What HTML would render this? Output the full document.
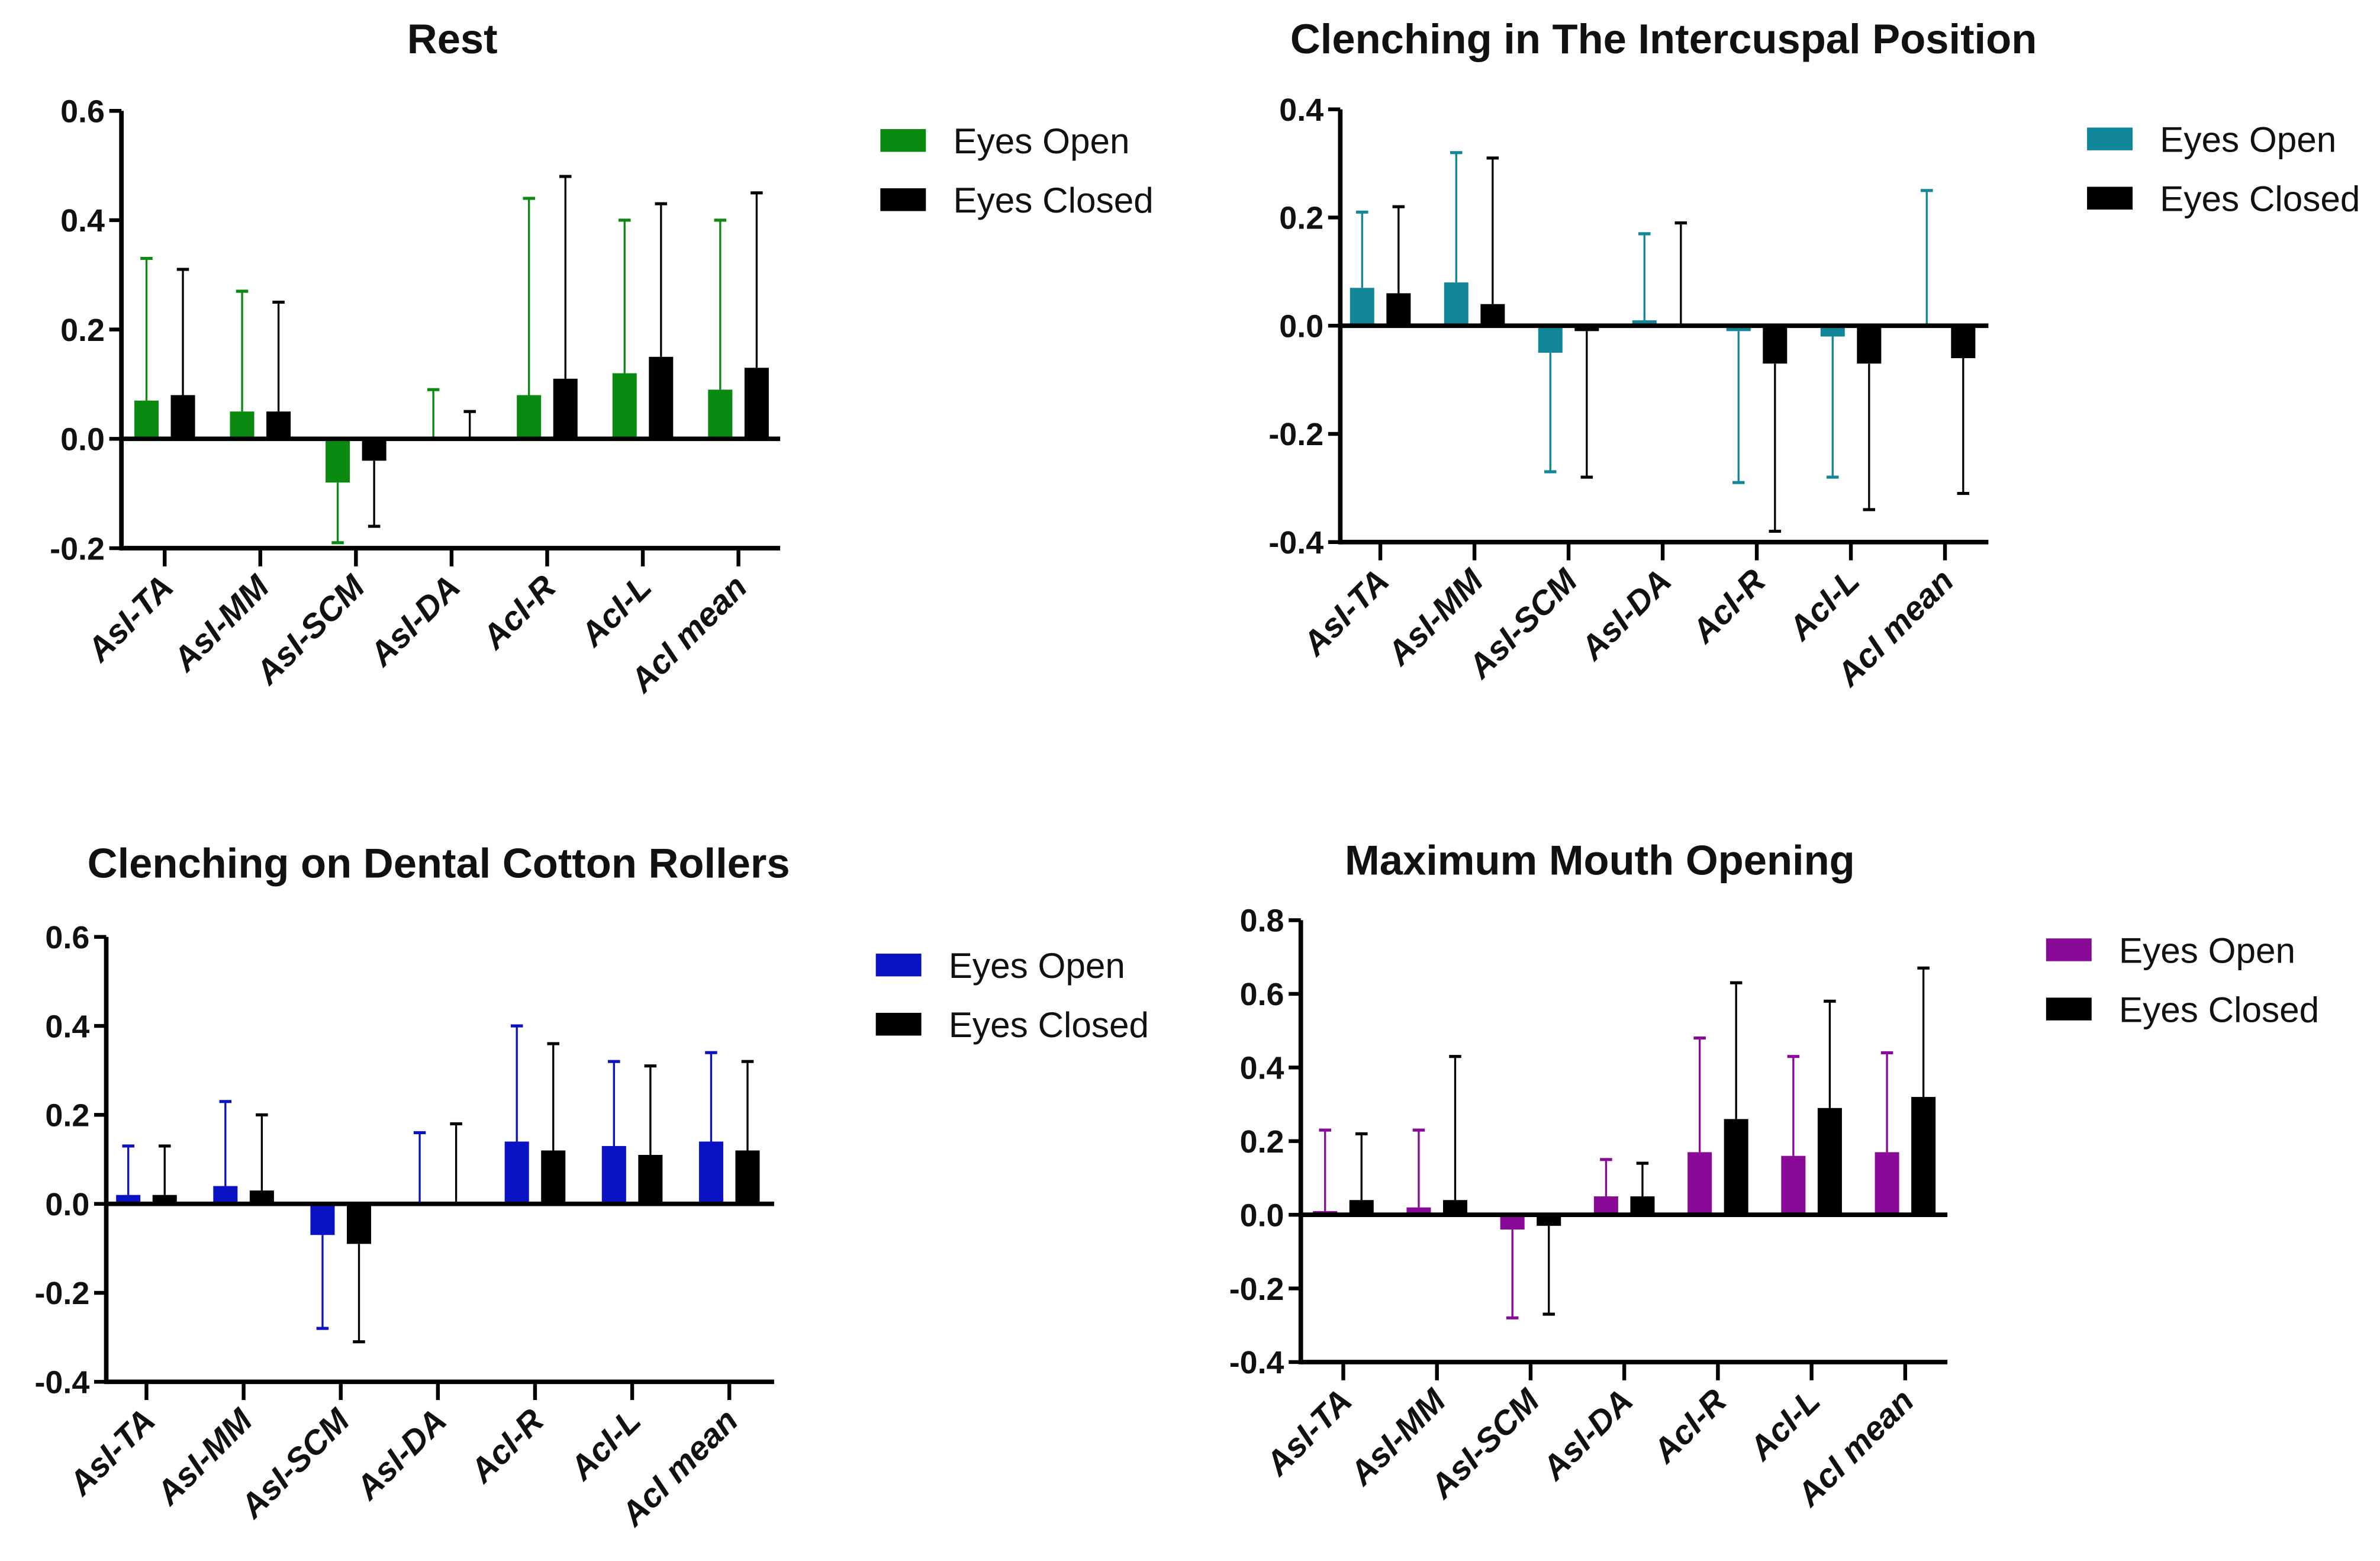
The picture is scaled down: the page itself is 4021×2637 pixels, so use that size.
<!DOCTYPE html>
<html><head><meta charset="utf-8">
<style>
html,body{margin:0;padding:0;background:#fff;}
svg{display:block;}
text{font-family:"Liberation Sans",sans-serif;}
</style></head>
<body>
<svg id="fig" width="4021" height="2637" viewBox="0 0 1568 1028" preserveAspectRatio="none" xmlns="http://www.w3.org/2000/svg"></svg>
<script>
const categories = ["AsI-TA","AsI-MM","AsI-SCM","AsI-DA","AcI-R","AcI-L","AcI mean"];
const restOpen = [0.07,0.05,-0.08,0,0.08,0.12,0.09];
const restOpenErr = [0.33,0.27,-0.19,0.09,0.44,0.40,0.40];
const restClosed = [0.08,0.05,-0.04,0,0.11,0.15,0.13];
const restClosedErr = [0.31,0.25,-0.16,0.05,0.48,0.43,0.45];
const restTicks = [0.6,0.4,0.2,0.0,-0.2];
const icpOpen = [0.07,0.08,-0.05,0.01,-0.01,-0.02,0];
const icpOpenErr = [0.21,0.32,-0.27,0.17,-0.29,-0.28,0.25];
const icpClosed = [0.06,0.04,-0.01,0,-0.07,-0.07,-0.06];
const icpClosedErr = [0.22,0.31,-0.28,0.19,-0.38,-0.34,-0.31];
const icpTicks = [0.4,0.2,0.0,-0.2,-0.4];
const cotOpen = [0.02,0.04,-0.07,0,0.14,0.13,0.14];
const cotOpenErr = [0.13,0.23,-0.28,0.16,0.40,0.32,0.34];
const cotClosed = [0.02,0.03,-0.09,0,0.12,0.11,0.12];
const cotClosedErr = [0.13,0.20,-0.31,0.18,0.36,0.31,0.32];
const cotTicks = [0.6,0.4,0.2,0.0,-0.2,-0.4];
const mmoOpen = [0.01,0.02,-0.04,0.05,0.17,0.16,0.17];
const mmoOpenErr = [0.23,0.23,-0.28,0.15,0.48,0.43,0.44];
const mmoClosed = [0.04,0.04,-0.03,0.05,0.26,0.29,0.32];
const mmoClosedErr = [0.22,0.43,-0.27,0.14,0.63,0.58,0.67];
const mmoTicks = [0.8,0.6,0.4,0.2,0.0,-0.2,-0.4];

const NS="http://www.w3.org/2000/svg";
const svg=document.getElementById('fig');
function mk(tag,attrs,parent){const e=document.createElementNS(NS,tag);for(const k in attrs)e.setAttribute(k,attrs[k]);(parent||svg).appendChild(e);return e;}

const panels=[
 {key:"rest",title:"Rest",tx:298,ty:35,x0:80,x1:514,yTopV:0.6,yTop:73,yMinV:-0.2,yMin:361,c0:108.5,dc:63,color:"#0b8a12",lx:580,ly:93,open:restOpen,openErr:restOpenErr,closed:restClosed,closedErr:restClosedErr,ticks:restTicks},
 {key:"intercuspal",title:"Clenching in The Intercuspal Position",tx:1096,ty:35,x0:883,x1:1310,yTopV:0.4,yTop:72,yMinV:-0.4,yMin:357,c0:909.4,dc:62,color:"#12879a",lx:1375,ly:92,open:icpOpen,openErr:icpOpenErr,closed:icpClosed,closedErr:icpClosedErr,ticks:icpTicks},
 {key:"cotton",title:"Clenching on Dental Cotton Rollers",tx:289,ty:578,x0:70,x1:510,yTopV:0.6,yTop:617,yMinV:-0.4,yMin:910,c0:96.5,dc:64,color:"#0b12c2",lx:577,ly:636,open:cotOpen,openErr:cotOpenErr,closed:cotClosed,closedErr:cotClosedErr,ticks:cotTicks},
 {key:"mmo",title:"Maximum Mouth Opening",tx:1054,ty:576,x0:857,x1:1283,yTopV:0.8,yTop:606,yMinV:-0.4,yMin:897,c0:885,dc:61.7,color:"#8a0a98",lx:1348,ly:626,open:mmoOpen,openErr:mmoOpenErr,closed:mmoClosed,closedErr:mmoClosedErr,ticks:mmoTicks}
];

panels.forEach(p=>{
  const g=mk('g',{});
  
  
  const y=v=>p.yTop+(p.yTopV-v)/(p.yTopV-p.yMinV)*(p.yMin-p.yTop);
  const xc=i=>p.c0+i*p.dc;
  const t=mk('text',{x:p.tx,y:p.ty,'text-anchor':'middle','font-size':27.5,'font-weight':'bold',fill:'#111'},g);
  t.textContent=p.title;
  
  
  const series=[[p.open,p.openErr,p.color,-12,'open'],[p.closed,p.closedErr,'#000',12,'closed']];
  series.forEach(([vals,errs,col,off,nm])=>{
    vals.forEach((v,i)=>{
      const cx=xc(i)+off, y0=y(0), yv=y(v);
      const r=mk('rect',{x:cx-8,y:Math.min(y0,yv),width:16,height:Math.max(Math.abs(yv-y0),1),fill:col},g);
      
      
      const ye=y(errs[i]);
      const l=mk('line',{x1:cx,x2:cx,y1:yv,y2:ye,stroke:col,'stroke-width':1.3},g);
      
      
      mk('line',{x1:cx-4,x2:cx+4,y1:ye,y2:ye,stroke:col,'stroke-width':2},g);
    });
  });
  const ya=mk('line',{x1:p.x0,x2:p.x0,y1:p.yTop,y2:p.yMin+1.5,stroke:'#000','stroke-width':3},g);
  
  
  const xa=mk('line',{x1:p.x0,x2:p.x1,y1:p.yMin,y2:p.yMin,stroke:'#000','stroke-width':3},g);
  
  
  const zl=mk('line',{x1:p.x0,x2:p.x1,y1:y(0),y2:y(0),stroke:'#000','stroke-width':3},g);
  
  
  p.ticks.forEach(v=>{
    mk('line',{x1:p.x0-8,x2:p.x0,y1:y(v),y2:y(v),stroke:'#000','stroke-width':2.5},g);
    const tl=mk('text',{x:p.x0-11,y:y(v)+7.5,'text-anchor':'end','font-size':21,'font-weight':'bold',fill:'#111'},g);
    tl.textContent=v.toFixed(1);
    
    
  });
  categories.forEach((c,i)=>{
    mk('line',{x1:xc(i),x2:xc(i),y1:p.yMin,y2:p.yMin+12,stroke:'#000','stroke-width':2.5},g);
    const lx=xc(i)+7, ly=p.yMin+27;
    const tl=mk('text',{x:lx,y:ly,'text-anchor':'end','font-size':22,'font-weight':'bold','font-style':'italic',fill:'#111',transform:`rotate(-45 ${lx} ${ly})`},g);
    tl.textContent=c;
    
    
  });
  [['Eyes Open',p.color,0],['Eyes Closed','#000',39]].forEach(([lab,col,dy])=>{
    const s=mk('rect',{x:p.lx,y:p.ly-8+dy,width:30,height:15,fill:col},g);
    
    
    const tt=mk('text',{x:p.lx+48,y:p.ly+8+dy,'font-size':23.5,fill:'#111'},g);
    tt.textContent=lab;
    
    
  });
});
</script>
</body></html>
